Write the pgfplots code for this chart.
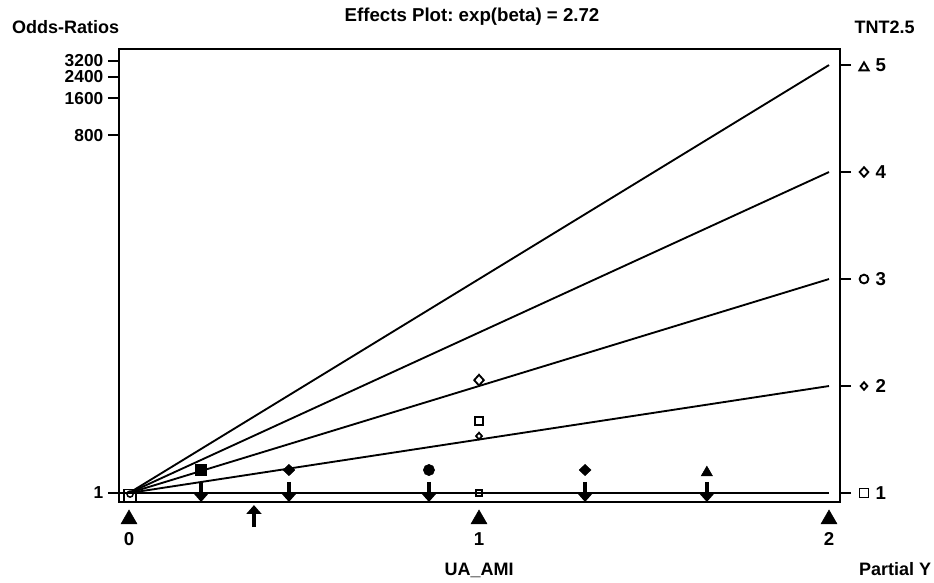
\documentclass[border=0pt]{standalone}
\usepackage{pgfplots}
\pgfplotsset{compat=1.18}
\usepackage{fontspec}
\setmainfont{Liberation Sans}
\usetikzlibrary{arrows.meta}
\frenchspacing
\newcommand{\lbl}{\fontsize{13.5}{16}\selectfont\bfseries}
\newcommand{\tlbl}{\fontsize{14}{16}\selectfont\bfseries}
\begin{document}
\begin{tikzpicture}
\pgfplotsset{
  common/.style={
    at={(0pt,0pt)}, anchor=south west,
    scale only axis, width=540.75pt, height=339.75pt,
    xmin=-0.0286, xmax=2.0314, ymin=-0.168, ymax=8.30,
    clip=false,
    axis line style={line width=1.5pt},
    major tick length=8.25pt, tick align=outside,
    tick style={line width=1.5pt, black},
    ticklabel style={font=\tlbl},
  }
}
\begin{axis}[common,
  xtick={0,1,2}, xticklabels={0,1,2},
  x tick style={draw=none},
  xtick pos=bottom,
  xticklabel style={yshift=-11pt},
  ytick={0,6.6846,7.3778,7.7832,8.0709},
  yticklabels={1,800,1600,\raisebox{-1.2pt}{2400},\raisebox{1.2pt}{3200}},
  yticklabel style={inner ysep=0pt, font=\fontsize{13}{14}\selectfont\bfseries},
  ytick pos=left,
]
% fitted lines
\addplot[line width=1.4pt] coordinates {(-0.0286,0) (2,0)};
\addplot[line width=1.4pt] coordinates {(0,0) (2,2)};
\addplot[line width=1.4pt] coordinates {(0,0) (2,4)};
\addplot[line width=1.4pt] coordinates {(0,0) (2,6)};
\addplot[line width=1.4pt] coordinates {(0,0) (2,8)};
% origin marker
\addplot[only marks, mark=square, mark size=4.6pt, mark options={line width=1.1pt}] coordinates {(0.003,-0.05)};
\addplot[only marks, mark=o, mark size=2.3pt, mark options={line width=1.1pt}] coordinates {(0.003,-0.02)};
% filled markers
\addplot[only marks, mark=square*, mark size=4.2pt] coordinates {(0.206,0.43)};
\addplot[only marks, mark=diamond*, mark size=4.2pt, mark options={xscale=1.4}] coordinates {(0.457,0.43) (1.303,0.43)};
\addplot[only marks, mark=*, mark size=4.2pt] coordinates {(0.857,0.43)};
\addplot[only marks, mark=triangle*, mark size=4.9pt] coordinates {(1.651,0.38)};
% arrows
\addplot[quiver={u=0, v=\thisrow{v}}, line width=2.6pt, -{Triangle[width=11pt,length=6.5pt]}]
  table[row sep=\\] {x y v\\ 0.206 0.206 -0.374\\ 0.457 0.206 -0.374\\ 0.857 0.206 -0.374\\ 1.303 0.206 -0.374\\ 1.651 0.206 -0.374\\};
\addplot[quiver={u=0, v=\thisrow{v}}, line width=2.6pt, -{Triangle[width=11pt,length=6.5pt]}]
  table[row sep=\\] {x y v\\ 0.357 -0.636 0.41\\};
% x-axis triangles
\addplot[only marks, mark=triangle*, mark size=6.9pt] coordinates {(0,-0.49) (1,-0.49) (2,-0.49)};
% open markers at x = 1
\addplot[only marks, mark=diamond, mark size=4pt, mark options={line width=1.4pt, xscale=1.2}] coordinates {(1,2.11)};
\addplot[only marks, mark=square, mark size=2.7pt, mark options={line width=1.4pt}] coordinates {(1,1.346)};
\addplot[only marks, mark=diamond, mark size=2.5pt, mark options={line width=1.3pt, xscale=1.2}] coordinates {(1,1.065)};
\addplot[only marks, mark=square, mark size=2.4pt, mark options={line width=1.2pt}] coordinates {(1,0)};
% right-side symbol key
\addplot[only marks, mark=triangle, mark size=4pt, mark options={line width=1.4pt}] coordinates {(2.1,7.95)};
\addplot[only marks, mark=diamond, mark size=3.6pt, mark options={line width=1.4pt, xscale=1.2}] coordinates {(2.1,6)};
\addplot[only marks, mark=o, mark size=3.3pt, mark options={line width=1.4pt}] coordinates {(2.1,4)};
\addplot[only marks, mark=diamond, mark size=2.8pt, mark options={line width=1.4pt, xscale=1.2}] coordinates {(2.1,2)};
\addplot[only marks, mark=square, mark size=3.4pt, mark options={line width=1.4pt}] coordinates {(2.1,0)};
% texts
\node[font=\tlbl] at (axis cs:0.98,8.90) {Effects Plot: exp(beta) = 2.72};
\node[font=\lbl] at (axis cs:-0.181,8.71) {Odds-Ratios};
\node[font=\lbl] at (axis cs:2.159,8.71) {TNT2.5};
\node[font=\lbl] at (axis cs:1.0,-1.44) {UA\_AMI};
\node[font=\lbl] at (axis cs:2.189,-1.42) {Partial Y};
\end{axis}
\begin{axis}[common,
  axis x line=none,
  axis y line*=right,
  ytick={0,2,4,6,8}, yticklabels={1,2,3,4,5},
  yticklabel style={xshift=15pt},
]
\addplot[draw=none] coordinates {(0,0)};
\end{axis}
\pgfresetboundingbox
\path (-89.25pt,-60pt) rectangle (611.25pt,376.5pt);
\end{tikzpicture}
\end{document}
